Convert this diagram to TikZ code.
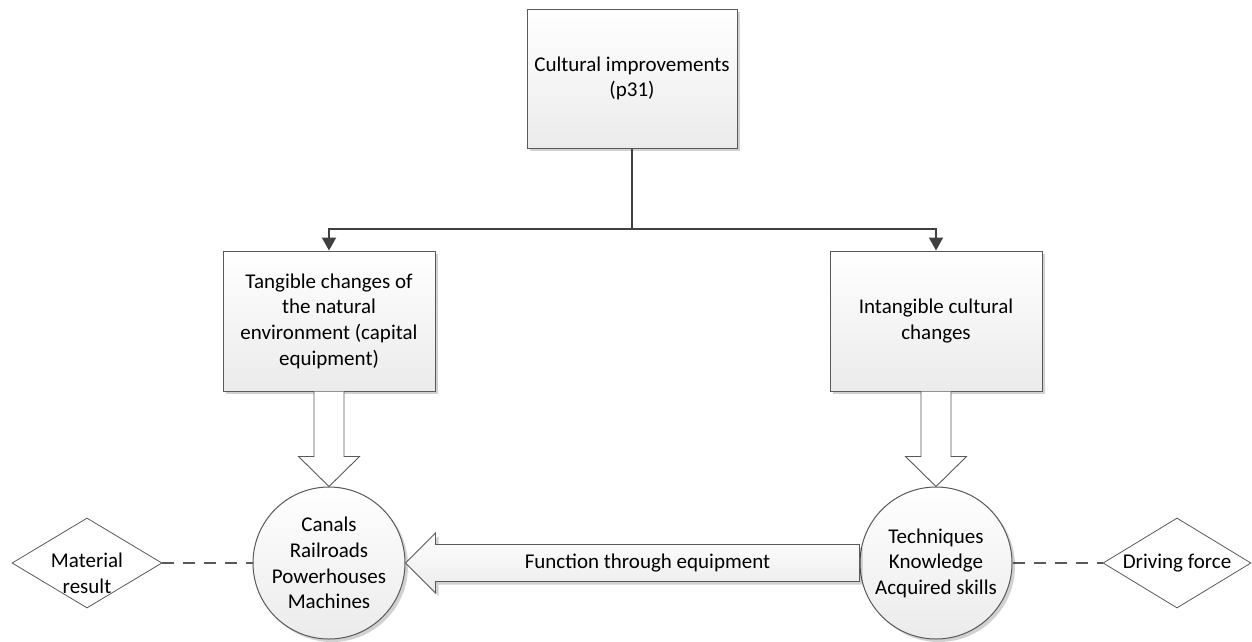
\documentclass[tikz,border=0pt]{standalone}
\usepackage{fontspec}
\setmainfont{Carlito}
\usetikzlibrary{arrows.meta,shapes.geometric,shadows,calc}

\definecolor{edge}{HTML}{404040}
\definecolor{rim}{HTML}{595959}
\definecolor{shadebottom}{HTML}{EBEBEB}

\tikzset{
  lbl/.style={font=\fontsize{21}{25.6}\selectfont, align=center, text=black},
  softshadow/.style={drop shadow={shadow xshift=3pt, shadow yshift=-3pt, opacity=0.18, fill=black}},
  panel/.style={rectangle, draw=rim, line width=1pt, top color=white, bottom color=shadebottom,
                softshadow, inner sep=0pt, lbl},
  disc/.style={circle, draw=rim, line width=1pt, top color=white, bottom color=shadebottom,
               softshadow, inner sep=0pt, minimum size=152pt, lbl},
  rhomb/.style={diamond, draw=rim, line width=0.8pt, fill=white, inner sep=0pt,
                minimum width=150pt, minimum height=90pt},
  conn/.style={draw=edge, line width=2pt, -{Triangle[width=14pt,length=13pt]}},
  plainconn/.style={draw=edge, line width=2pt},
  hollow/.style={draw=rim, line width=0.9pt, fill=white, line join=miter},
  bigarrow/.style={draw=rim, line width=0.9pt, top color=white, bottom color=shadebottom,
                   softshadow, line join=miter},
  dashlink/.style={draw=rim, line width=1.6pt, dash pattern=on 12pt off 9pt},
}

\begin{document}
\begin{tikzpicture}[x=1pt, y=-1pt]
  \useasboundingbox (0,0) rectangle (1252,641);

  % boxes
  \node[panel, minimum width=210pt, minimum height=139pt] (top) at (632,78.5)
    {Cultural improvements\\(p31)};
  \node[panel, minimum width=212pt, minimum height=140pt] (lbox) at (329,321)
    {Tangible changes of\\the natural\\environment (capital\\equipment)};
  \node[panel, minimum width=212pt, minimum height=140pt] (rbox) at (936,321)
    {Intangible cultural\\changes};

  % tree connector from the top box
  \coordinate (split) at (632,229);
  \draw[plainconn] (top.south) -- (split);
  \draw[conn] (split) -| (lbox.north);
  \draw[conn] (split) -| (rbox.north);

  % circles
  \node[disc] (lc) at (329,563) {Canals\\Railroads\\Powerhouses\\Machines};
  \node[disc] (rc) at (936,563) {Techniques\\Knowledge\\Acquired skills};

  % hollow block arrows from the boxes to the circles
  \draw[hollow] ($(lbox.south)+(-15,0)$) -- ($(lc.north)+(-15,-30)$) -- ($(lc.north)+(-30.5,-30)$)
    -- (lc.north) -- ($(lc.north)+(30.5,-30)$) -- ($(lc.north)+(15,-30)$) -- ($(lbox.south)+(15,0)$);
  \draw[hollow] ($(rbox.south)+(-15,0)$) -- ($(rc.north)+(-15,-30)$) -- ($(rc.north)+(-30.5,-30)$)
    -- (rc.north) -- ($(rc.north)+(30.5,-30)$) -- ($(rc.north)+(15,-30)$) -- ($(rbox.south)+(15,0)$);

  % block arrow between the circles
  \draw[bigarrow] (lc.east) -- ($(lc.east)+(30,-30)$) -- ($(lc.east)+(30,-18.5)$)
    -- ($(rc.west)+(0,-18.5)$) -- ($(rc.west)+(0,18.5)$) -- ($(lc.east)+(30,18.5)$)
    -- ($(lc.east)+(30,30)$) -- cycle;
  \node[lbl] (func) at ($($(lc.east)+(30,0)$)!0.5!(rc.west)$) {Function through equipment};

  % diamonds
  \node[rhomb] (mres) at (87,563) {};
  \node[lbl] (mrestext) at ($(mres)+(0,10)$) {Material\\result};
  \node[rhomb, minimum width=148pt] (drive) at (1177,563) {};
  \node[lbl] (drivetext) at (drive) {Driving force};

  % dashed links
  \draw[dashlink] (mres.east) -- (lc.west);
  \draw[dashlink] (rc.east) -- (drive.west);
\end{tikzpicture}
\end{document}
